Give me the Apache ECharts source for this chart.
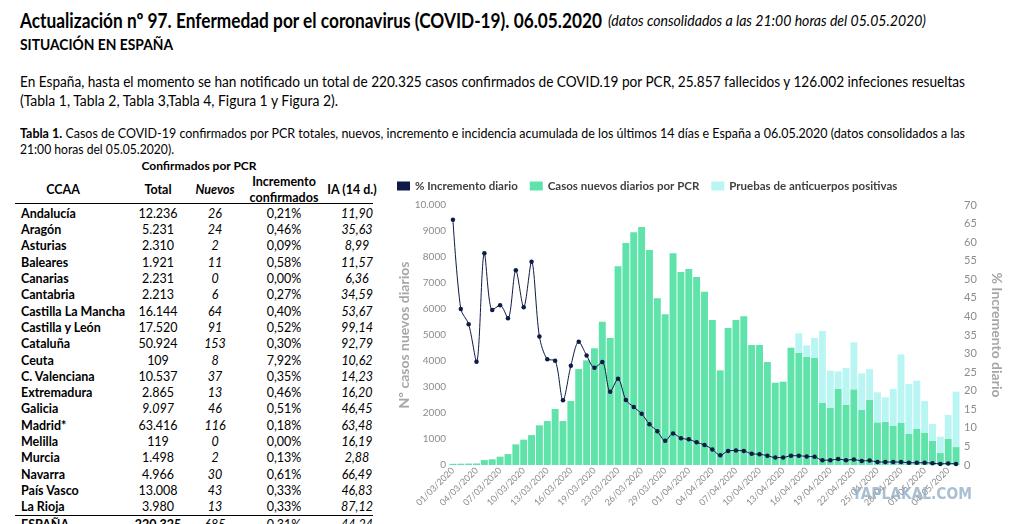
<!DOCTYPE html>
<html>
<head>
<meta charset="utf-8">
<script src="https://cdn.jsdelivr.net/npm/echarts@6/dist/echarts.min.js"></script>
<style>
html, body { margin: 0; padding: 0; background: #fff; }
#page { position: relative; width: 1012px; height: 524px; overflow: hidden; font-family: Lato, 'Liberation Sans', sans-serif; color: #000; }
.t { position: absolute; white-space: nowrap; line-height: 1; transform-origin: 0 50%; }
.c { position: absolute; white-space: nowrap; line-height: 1; text-align: center; width: 120px; font-size: 12.5px; }
.hr { position: absolute; left: 15px; width: 358px; height: 1.5px; background: #000; }
#chart { position: absolute; left: 380px; top: 170px; width: 632px; height: 354px; }
#marca { position: absolute; left: 852px; top: 485px; font: bold 15px 'DejaVu Sans', sans-serif; color: rgba(140, 170, 195, 0.75); transform: scaleX(0.92); transform-origin: 0 50%; }
</style>
</head>
<body>
<div id="page">
  <div class="t fit" data-w="582" style="left:20px;top:10px;font-size:20px;font-weight:bold;">Actualización nº 97. Enfermedad por el coronavirus (COVID-19). 06.05.2020</div>
  <div class="t fit" data-w="318" style="left:608px;top:13px;font-size:15px;font-style:italic;">(datos consolidados a las 21:00 horas del 05.05.2020)</div>
  <div class="t fit" data-w="153" style="left:20px;top:37px;font-size:15px;font-weight:bold;">SITUACIÓN EN ESPAÑA</div>
  <div class="t fit" data-w="945" style="left:20px;top:74px;font-size:15.5px;">En España, hasta el momento se han notificado un total de 220.325 casos confirmados de COVID.19 por PCR, 25.857 fallecidos y 126.002 infeciones resueltas</div>
  <div class="t fit" data-w="318" style="left:20px;top:93px;font-size:15.5px;">(Tabla 1, Tabla 2, Tabla 3,Tabla 4, Figura 1 y Figura 2).</div>
  <div class="t fit" data-w="945" style="left:20px;top:127px;font-size:13px;"><b>Tabla 1.</b> Casos de COVID-19 confirmados por PCR totales, nuevos, incremento e incidencia acumulada de los últimos 14 días e España a 06.05.2020 (datos consolidados a las</div>
  <div class="t fit" data-w="154" style="left:20px;top:143px;font-size:13px;">21:00 horas del 05.05.2020).</div>
  <div id="tabla"></div>
  <div id="chart"></div>
  <div id="marca">YAPLAKAL.COM</div>
</div>
<script>
// tabla 1
const ccaa = ['Andalucía', 'Aragón', 'Asturias', 'Baleares', 'Canarias', 'Cantabria', 'Castilla La Mancha', 'Castilla y León', 'Cataluña', 'Ceuta', 'C. Valenciana', 'Extremadura', 'Galicia', 'Madrid*', 'Melilla', 'Murcia', 'Navarra', 'País Vasco', 'La Rioja'];
const totales = ['12.236', '5.231', '2.310', '1.921', '2.231', '2.213', '16.144', '17.520', '50.924', '109', '10.537', '2.865', '9.097', '63.416', '119', '1.498', '4.966', '13.008', '3.980'];
const nuevos = ['26', '24', '2', '11', '0', '6', '64', '91', '153', '8', '37', '13', '46', '116', '0', '2', '30', '43', '13'];
const incremento = ['0,21%', '0,46%', '0,09%', '0,58%', '0,00%', '0,27%', '0,40%', '0,52%', '0,30%', '7,92%', '0,35%', '0,46%', '0,51%', '0,18%', '0,00%', '0,13%', '0,61%', '0,33%', '0,33%'];
const ia14 = ['11,90', '35,63', '8,99', '11,57', '6,36', '34,59', '53,67', '99,14', '92,79', '10,62', '14,23', '16,20', '46,45', '63,48', '16,19', '2,88', '66,49', '46,83', '87,12'];
const totalEspana = ['ESPAÑA', '220.325', '685', '0,31%', '44,24'];

// figura
const fechas = ['01/03/2020', '02/03/2020', '03/03/2020', '04/03/2020', '05/03/2020', '06/03/2020', '07/03/2020', '08/03/2020', '09/03/2020', '10/03/2020',
  '11/03/2020', '12/03/2020', '13/03/2020', '14/03/2020', '15/03/2020', '16/03/2020', '17/03/2020', '18/03/2020', '19/03/2020', '20/03/2020',
  '21/03/2020', '23/03/2020', '24/03/2020', '25/03/2020', '26/03/2020', '27/03/2020', '28/03/2020', '29/03/2020', '30/03/2020', '31/03/2020',
  '01/04/2020', '02/04/2020', '03/04/2020', '04/04/2020', '05/04/2020', '06/04/2020', '07/04/2020', '08/04/2020', '09/04/2020', '10/04/2020',
  '11/04/2020', '12/04/2020', '13/04/2020', '14/04/2020', '15/04/2020', '16/04/2020', '17/04/2020', '18/04/2020', '19/04/2020', '20/04/2020',
  '21/04/2020', '22/04/2020', '23/04/2020', '24/04/2020', '25/04/2020', '26/04/2020', '27/04/2020', '28/04/2020', '29/04/2020', '30/04/2020',
  '01/05/2020', '02/05/2020', '03/05/2020', '04/05/2020', '05/05/2020'];
const casosPCR = [45, 50, 55, 60, 190, 220, 320, 420, 795, 975,
  1150, 1525, 1690, 2155, 1690, 2460, 3690, 4025, 4490, 5510,
  4885, 7640, 8540, 8950, 9155, 8270, 6410, 5795, 8140, 7425,
  7540, 7230, 6665, 5575, 3640, 5270, 5575, 5720, 4615, 4615,
  3960, 3165, 3205, 4510, 4310, 4155, 4130, 2400, 2205, 2925,
  2320, 2910, 2115, 2500, 1640, 1655, 1500, 1615, 1205, 1385,
  1245, 935, 460, 1000, 690];
const anticuerpos = [0, 0, 0, 0, 0, 0, 0, 0, 0, 0,
  0, 0, 0, 0, 0, 0, 0, 0, 0, 0,
  0, 0, 0, 0, 0, 0, 0, 0, 0, 0,
  0, 0, 0, 0, 0, 0, 0, 0, 0, 0,
  0, 0, 0, 0, 755, 445, 755, 2755, 1425, 675,
  1410, 1810, 1410, 1190, 1155, 945, 1425, 2640, 1910, 1860,
  1215, 640, 630, 925, 2130];
const incrementoDiario = [66.0, 42.0, 37.9, 27.8, 57.0, 41.7, 43.0, 39.5, 52.4, 42.5,
  54.7, 34.6, 28.5, 28.1, 17.4, 26.7, 33.2, 29.5, 26.2, 27.7,
  19.7, 23.2, 17.5, 15.6, 13.8, 11.0, 9.1, 6.5, 8.5, 7.2,
  6.9, 6.1, 5.4, 4.2, 2.6, 3.8, 3.9, 3.8, 3.0, 2.9,
  2.5, 2.0, 2.0, 2.5, 2.5, 2.3, 2.2, 1.3, 1.3, 1.6,
  1.3, 1.5, 1.1, 1.2, 0.8, 0.8, 0.8, 0.8, 0.6, 0.6,
  0.6, 0.5, 0.3, 0.4, 0.3];

function celda(txt, cx, cy, style) {
    let d = document.createElement('div');
    d.className = 'c';
    d.textContent = txt;
    d.style.left = (cx - 60) + 'px';
    d.style.top = (cy - 6.5) + 'px';
    if (style) d.style.cssText += style;
    document.getElementById('tabla').appendChild(d);
    return d;
}
function linea(y) {
    let d = document.createElement('div');
    d.className = 'hr';
    d.style.top = y + 'px';
    document.getElementById('tabla').appendChild(d);
}

celda('Confirmados por PCR', 199, 166, 'font-weight:bold;font-size:12px;');
celda('CCAA', 63, 190, 'font-weight:bold;');
celda('Total', 158, 190, 'font-weight:bold;');
celda('Nuevos', 215, 190, 'font-weight:bold;font-style:italic;');
celda('Incremento', 284, 182, 'font-weight:bold;');
celda('confirmados', 284, 198, 'font-weight:bold;');
celda('IA (14 d.)', 352, 190, 'font-weight:bold;');
linea(202.5);

ccaa.forEach((nombre, i) => {
    let y = 214.3 + i * 16.3;
    let n = celda(nombre, 0, y, 'font-weight:bold;text-align:left;width:auto;');
    n.style.left = '21px';
    celda(totales[i], 158, y, nombre == 'Galicia' ? 'font-style:italic;' : '');
    celda(nuevos[i], 215, y, 'font-style:italic;');
    celda(incremento[i], 284, y);
    celda(ia14[i], 357, y, 'font-style:italic;');
});
linea(514.5);
let yE = 214.3 + ccaa.length * 16.3 + 1;
let e = celda(totalEspana[0], 0, yE, 'font-weight:bold;text-align:left;width:auto;');
e.style.left = '21px';
celda(totalEspana[1], 158, yE, 'font-weight:bold;');
celda(totalEspana[2], 215, yE, 'font-style:italic;');
celda(totalEspana[3], 284, yE);
celda(totalEspana[4], 357, yE, 'font-style:italic;');

// ajustar el ancho de las lineas de texto
function ajustar() {
    document.querySelectorAll('.fit').forEach((el) => {
        el.style.transform = 'none';
        let w = el.getBoundingClientRect().width;
        let objetivo = parseFloat(el.dataset.w);
        if (w > 0) el.style.transform = 'scaleX(' + (objetivo / w) + ')';
    });
}
ajustar();
if (document.fonts) document.fonts.ready.then(ajustar);

let fig = echarts.init(document.getElementById('chart'));
fig.setOption({
    animation: false,
    textStyle: { fontFamily: 'Lato, sans-serif' },
    legend: {
        left: 12,
        top: 5,
        itemWidth: 13,
        itemHeight: 9,
        itemGap: 12,
        textStyle: { color: '#404040', fontSize: 11.5, fontWeight: 'bold' },
        data: [
            { name: '% Incremento diario', icon: 'rect' },
            { name: 'Casos nuevos diarios por PCR', icon: 'rect' },
            { name: 'Pruebas de anticuerpos positivas', icon: 'rect' }
        ]
    },
    grid: { left: 69, right: 47, top: 35, bottom: 59 },
    xAxis: {
        type: 'category',
        data: fechas,
        axisLine: { show: false },
        axisTick: { show: false },
        axisLabel: { interval: 2, rotate: 45, color: '#8c8c8c', fontSize: 9, margin: 4 }
    },
    yAxis: [
        {
            type: 'value',
            min: 0,
            max: 10000,
            interval: 1000,
            name: 'Nº casos nuevos diarios',
            nameLocation: 'middle',
            nameGap: 38,
            nameMoveOverlap: false,
            nameTextStyle: { color: '#a6a6a6', fontSize: 14, fontWeight: 'bold' },
            splitLine: { show: false },
            axisLine: { show: false },
            axisTick: { show: false },
            axisLabel: {
                color: '#8c8c8c',
                fontSize: 10,
                margin: 3,
                formatter: (v) => v == 10000 ? '10.000' : v
            }
        },
        {
            type: 'value',
            position: 'right',
            min: 0,
            max: 70,
            interval: 5,
            name: '% Incremento diario',
            nameLocation: 'middle',
            nameRotate: -90,
            nameGap: 30,
            nameMoveOverlap: false,
            nameTextStyle: { color: '#a6a6a6', fontSize: 14, fontWeight: 'bold' },
            splitLine: { show: false },
            axisLine: { show: false },
            axisTick: { show: false },
            axisLabel: { color: '#8c8c8c', fontSize: 11, margin: 4 }
        }
    ],
    series: [
        {
            name: 'Casos nuevos diarios por PCR',
            type: 'bar',
            stack: 'casos',
            barCategoryGap: '12%',
            itemStyle: { color: '#5fe3aa' },
            data: casosPCR
        },
        {
            name: 'Pruebas de anticuerpos positivas',
            type: 'bar',
            stack: 'casos',
            itemStyle: { color: '#b9f6f3' },
            data: anticuerpos
        },
        {
            name: '% Incremento diario',
            type: 'line',
            yAxisIndex: 1,
            smooth: 0.3,
            symbol: 'circle',
            symbolSize: 4.5,
            z: 5,
            lineStyle: { color: '#0e1a47', width: 1 },
            itemStyle: { color: '#0e1a47' },
            data: incrementoDiario
        }
    ]
});
</script>
</body>
</html>
